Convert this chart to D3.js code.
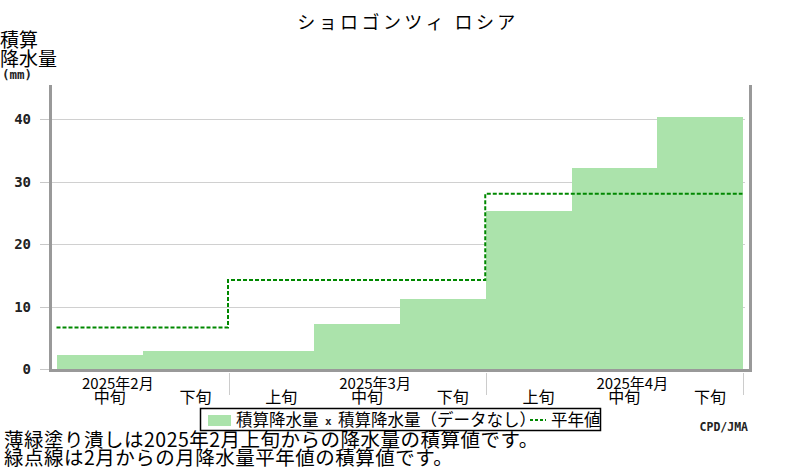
<!DOCTYPE html>
<html>
<head>
<meta charset="utf-8">
<script src="https://cdn.jsdelivr.net/npm/d3@7"></script>
<style>
  body { margin: 0; background: #fff; }
  svg { display: block; }
  .jp { font-family: "Noto Sans CJK JP", "Noto Sans", sans-serif; fill: #000; }
  .num { font-family: "DejaVu Sans Mono", monospace; font-weight: bold; fill: #222; }
</style>
</head>
<body>
<div class="chart"></div>
<script>
// dekads shown on the x axis (Feb mid .. Apr late)
const dekads = ["2月中旬", "2月下旬", "3月上旬", "3月中旬", "3月下旬", "4月上旬", "4月中旬", "4月下旬"];
const dekadLabels = ["中旬", "下旬", "上旬", "中旬", "下旬", "上旬", "中旬", "下旬"];
// accumulated precipitation (mm) per dekad
const accum = [2.3, 3.0, 3.0, 7.3, 11.2, 25.3, 32.2, 40.4];
// months, first dekad index of each, and accumulated normal (mm)
const months = ["2025年2月", "2025年3月", "2025年4月"];
const monthStart = [0, 2, 5];
const monthMid = [0, 3, 6];
const normals = [6.7, 14.3, 28.1];
const yTicks = [0, 10, 20, 30, 40];

const width = 800, height = 470;

let svg = d3.select(".chart").append("svg")
    .attr("width", width)
    .attr("height", height);

let x = d3.scaleLinear().domain([0, dekads.length]).range([57, 743]);
let y = d3.scaleLinear().domain([0, 45.5]).range([369.3, 85]);

// title
svg.append("text").attr("class", "jp")
    .attr("x", 408).attr("y", 29)
    .attr("text-anchor", "middle")
    .attr("font-size", 18)
    .attr("letter-spacing", 3.4)
    .text("ショロゴンツィ ロシア");

// y axis title
svg.append("text").attr("class", "jp").attr("x", 0).attr("y", 47).attr("font-size", 19).text("積算");
svg.append("text").attr("class", "jp").attr("x", 0).attr("y", 66).attr("font-size", 19).text("降水量");
svg.append("text").attr("class", "num").attr("x", 2).attr("y", 79).attr("font-size", 12.5).text("(mm)");

// gridlines + ticks
svg.selectAll(".grid").data(yTicks.filter(d => d > 0)).enter()
    .append("line")
    .attr("x1", 51).attr("x2", 745)
    .attr("y1", d => Math.round(y(d)) + 0.5).attr("y2", d => Math.round(y(d)) + 0.5)
    .attr("stroke", "#d0d0d0").attr("stroke-width", 1);

svg.selectAll(".ytick").data(yTicks).enter()
    .append("line")
    .attr("x1", 40).attr("x2", 49)
    .attr("y1", d => Math.round(y(d)) + 0.5).attr("y2", d => Math.round(y(d)) + 0.5)
    .attr("stroke", "#c8c8c8").attr("stroke-width", 1);

svg.selectAll(".ylab").data(yTicks).enter()
    .append("text").attr("class", "num")
    .attr("x", 31).attr("y", d => y(d) + 5)
    .attr("text-anchor", "end")
    .attr("font-size", 14)
    .text(d => d);

// accumulated precipitation
svg.selectAll(".bar").data(accum).enter()
    .append("rect")
    .attr("x", (d, i) => x(i))
    .attr("width", (d, i) => x(i + 1) - x(i))
    .attr("y", d => y(d))
    .attr("height", d => y(0) - y(d))
    .attr("fill", "#abe3ab")
    .attr("shape-rendering", "crispEdges");

// normal (step line)
let normalPts = monthStart.map((s, i) => [s, normals[i]]);
normalPts.push([dekads.length, normals[normals.length - 1]]);
let line = d3.line()
    .x(d => x(d[0]) - 0.5)
    .y(d => y(d[1]))
    .curve(d3.curveStepAfter);

svg.append("path")
    .datum(normalPts)
    .attr("d", line)
    .attr("fill", "none")
    .attr("stroke", "#008800")
    .attr("stroke-width", 2)
    .attr("stroke-dasharray", "4,2");

// frame
let frame = svg.append("g").attr("stroke", "#999").attr("stroke-width", 3).attr("fill", "none");
frame.append("line").attr("x1", 50.5).attr("x2", 50.5).attr("y1", 85).attr("y2", 372);
frame.append("line").attr("x1", 750.5).attr("x2", 750.5).attr("y1", 85).attr("y2", 372);
frame.append("line").attr("x1", 49).attr("x2", 752).attr("y1", 370.5).attr("y2", 370.5);

// month separators below axis
svg.selectAll(".msep").data(monthStart.slice(1).concat([dekads.length])).enter()
    .append("line")
    .attr("x1", d => Math.round(x(d)) + 0.5).attr("x2", d => Math.round(x(d)) + 0.5)
    .attr("y1", 373).attr("y2", 395)
    .attr("stroke", "#cccccc").attr("stroke-width", 1);

// x labels
svg.selectAll(".mlab").data(months).enter()
    .append("text").attr("class", "jp")
    .attr("x", (d, i) => x(monthMid[i] + 0.5) + 18)
    .attr("y", 389)
    .attr("text-anchor", "middle")
    .attr("font-size", 15)
    .text(d => d);

svg.selectAll(".dlab").data(dekadLabels).enter()
    .append("text").attr("class", "jp")
    .attr("x", (d, i) => x(i + 0.5) + 10)
    .attr("y", 403)
    .attr("text-anchor", "middle")
    .attr("font-size", 16)
    .text(d => d);

// legend
let legend = svg.append("g");
legend.append("rect")
    .attr("x", 200.5).attr("y", 408.5).attr("width", 400).attr("height", 22)
    .attr("fill", "#fff").attr("stroke", "#000").attr("stroke-width", 1.5);
legend.append("rect")
    .attr("x", 208).attr("y", 415).attr("width", 23).attr("height", 11)
    .attr("fill", "#abe3ab");
legend.append("text").attr("class", "jp")
    .attr("x", 236).attr("y", 426).attr("font-size", 16.5)
    .text("積算降水量");
legend.append("text").attr("class", "num")
    .attr("x", 325).attr("y", 425).attr("font-size", 11)
    .text("x");
legend.append("text").attr("class", "jp")
    .attr("x", 338).attr("y", 426).attr("font-size", 16.5)
    .text("積算降水量（データなし）");
legend.append("line")
    .attr("x1", 530).attr("x2", 546).attr("y1", 420).attr("y2", 420)
    .attr("stroke", "#008800").attr("stroke-width", 2).attr("stroke-dasharray", "3,2");
legend.append("text").attr("class", "jp")
    .attr("x", 551).attr("y", 426).attr("font-size", 16.5)
    .text("平年値");

// credit
svg.append("text").attr("class", "num")
    .attr("x", 748).attr("y", 431)
    .attr("text-anchor", "end")
    .attr("font-size", 11.5)
    .text("CPD/JMA");

// notes
svg.append("text").attr("class", "jp")
    .attr("x", 4).attr("y", 447).attr("font-size", 19.5)
    .attr("letter-spacing", 0.5)
    .text("薄緑塗り潰しは2025年2月上旬からの降水量の積算値です。");
svg.append("text").attr("class", "jp")
    .attr("x", 4).attr("y", 465).attr("font-size", 19.5)
    .attr("letter-spacing", 0.5)
    .text("緑点線は2月からの月降水量平年値の積算値です。");
</script>
</body>
</html>
